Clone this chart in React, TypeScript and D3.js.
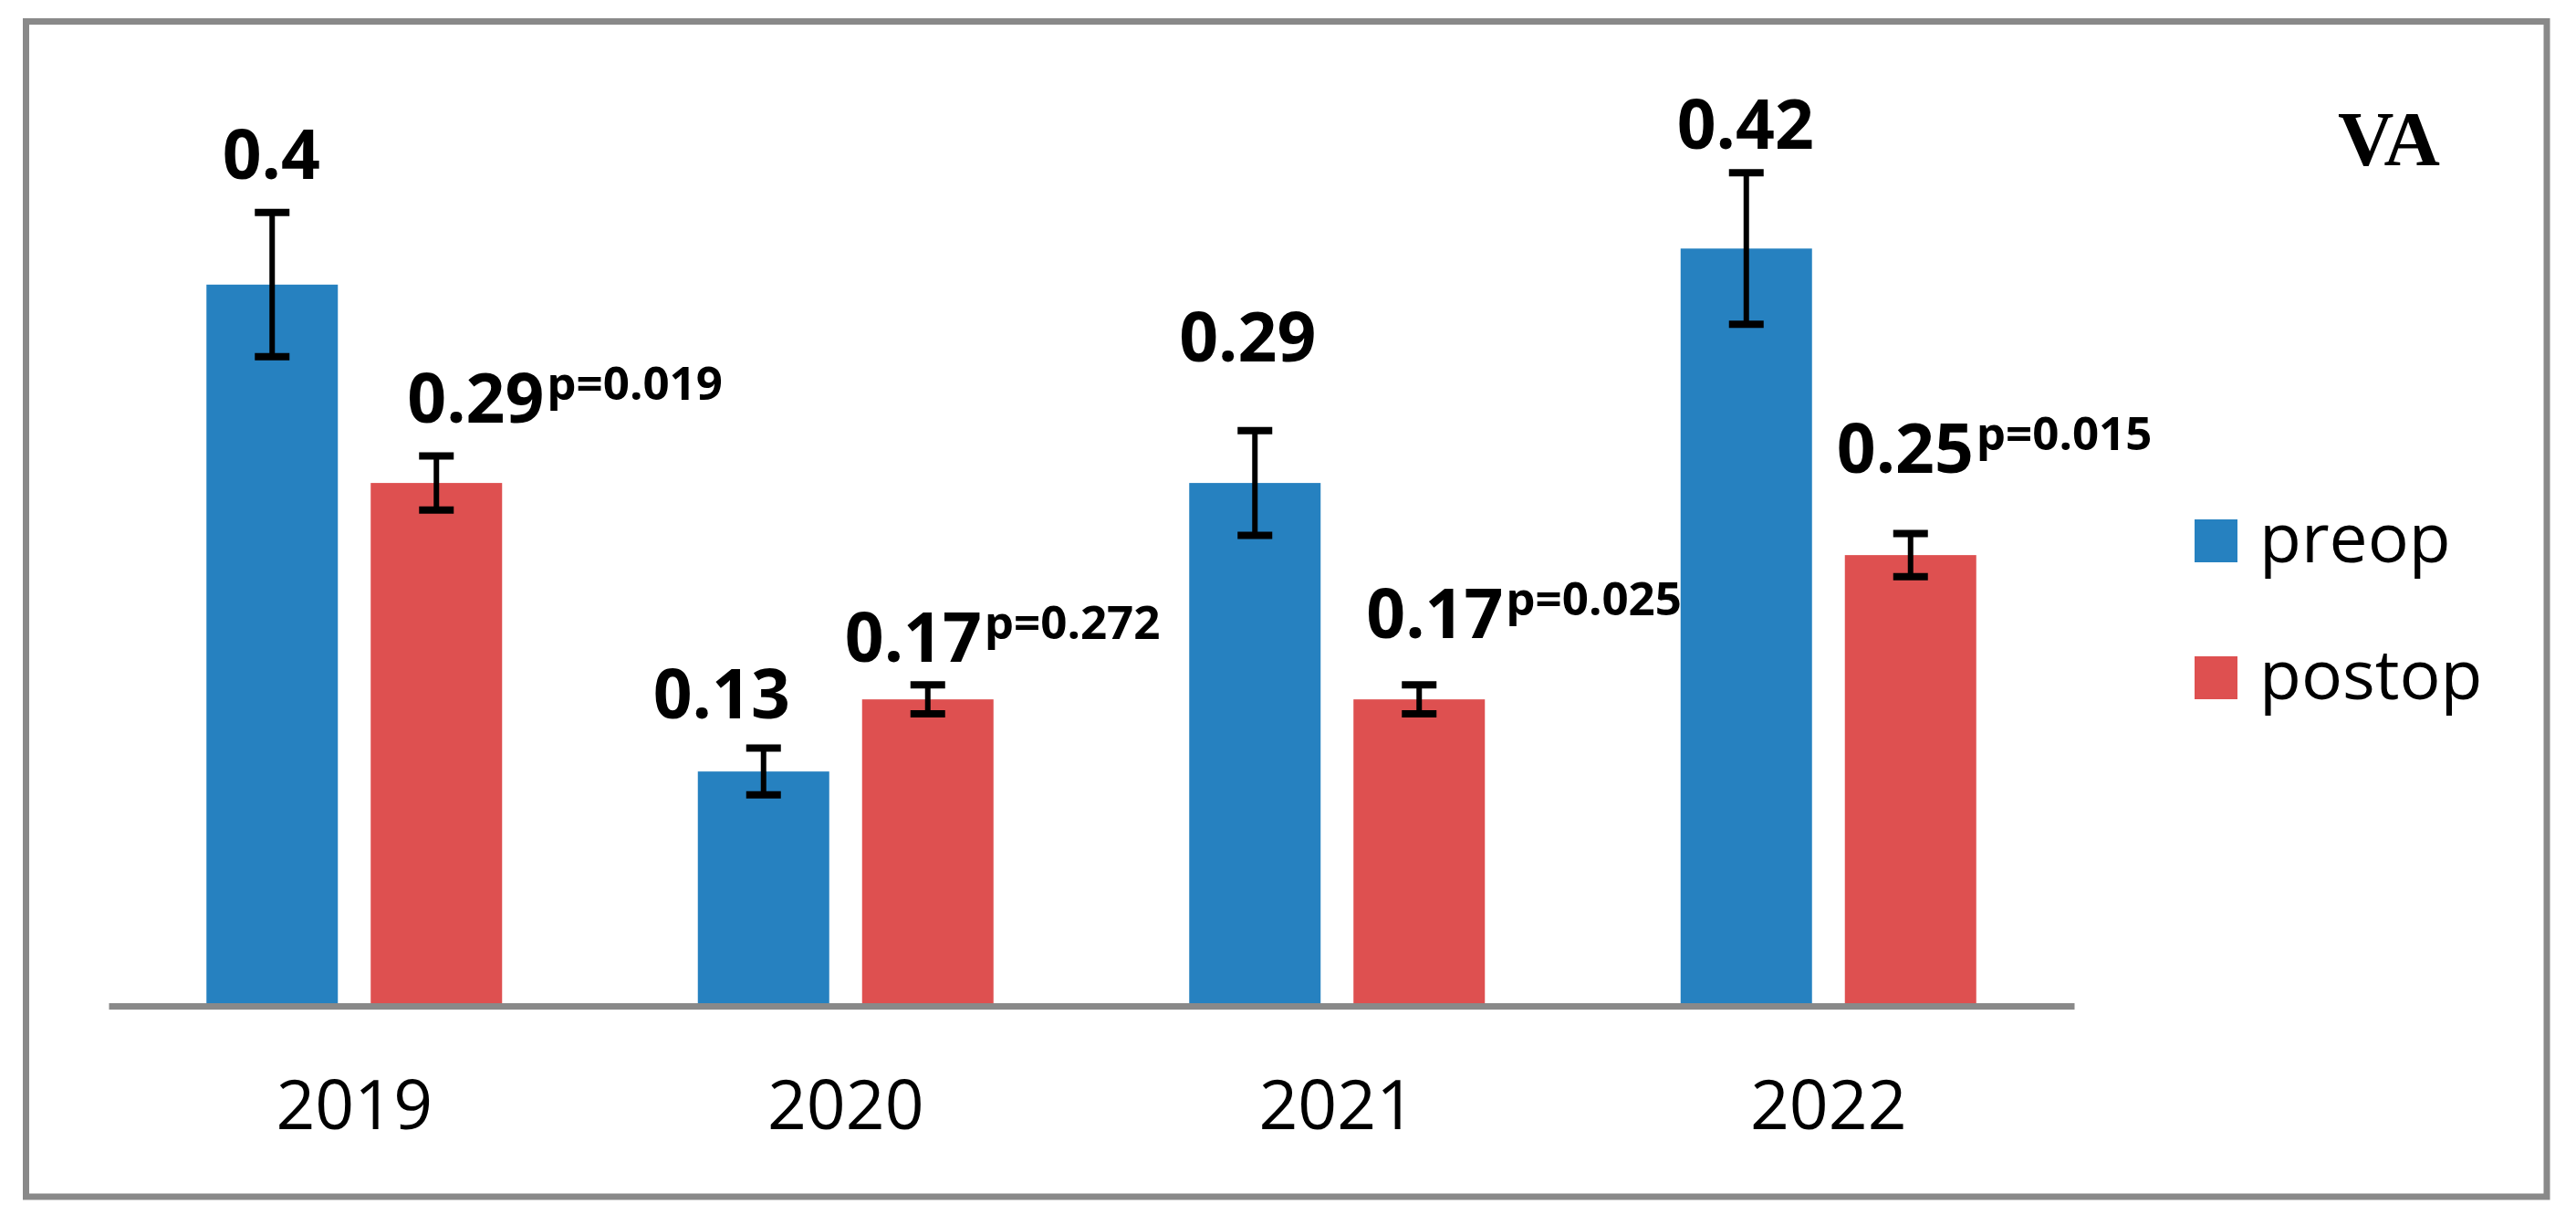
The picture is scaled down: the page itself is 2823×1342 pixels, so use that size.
import { useEffect, useRef } from "react"
import * as d3 from "d3"

// chart values
const YEARS = ["2019", "2020", "2021", "2022"]
const SERIES = ["preop", "postop"]
const PREOP = [0.4, 0.13, 0.29, 0.42]
const PREOP_ERR = [0.04, 0.013, 0.029, 0.042]
const POSTOP = [0.29, 0.17, 0.17, 0.25]
const POSTOP_ERR = [0.015, 0.008, 0.008, 0.012]
const P_VALUES = ["0.019", "0.272", "0.025", "0.015"]
const TITLE = "VA"

// label placement (px from bar centre / bar top), hand tuned like the original
const PRE_LABEL_DX = [-1, -46, -8, -1]
const PRE_LABEL_DY = [-116, -58, -133, -109]
const POST_LABEL_DX = [-32, -91, -58, -81]
const POST_LABEL_DY = [-66, -41, -67, -90]

const W = 2823
const H = 1342
const COLORS: Record<string, string> = { preop: "#2681c0", postop: "#de5050" }
const GRAY = "#898989"
const FONT = "'Open Sans', 'Noto Sans', sans-serif"

const App = () => {
    const svgRef = useRef<SVGSVGElement>(null)

    useEffect(() => {
        document.body.style.margin = "0"
        const svg = d3.select(svgRef.current)
            .attr("width", W)
            .attr("height", H)
            .style("background", "#fff")
        svg.selectAll("*").remove()

        //scales
        const x = d3.scaleBand().domain(YEARS).range([119, 2273])
        const xs = d3.scaleBand().domain(SERIES).range([-162, 162]).paddingInner(0.2)
        const y = d3.scaleLinear().domain([0, 0.5]).range([1102, 114.25])

        //outer frame
        svg.append("rect")
            .attr("x", 28.5).attr("y", 23.5)
            .attr("width", 2762.5).attr("height", 1287.5)
            .attr("fill", "none")
            .attr("stroke", GRAY)
            .attr("stroke-width", 7)

        const rows = YEARS.map((year, i) => ({
            year,
            bars: [
                { key: "preop", v: PREOP[i], e: PREOP_ERR[i], dx: PRE_LABEL_DX[i], dy: PRE_LABEL_DY[i], p: null as string | null },
                { key: "postop", v: POSTOP[i], e: POSTOP_ERR[i], dx: POST_LABEL_DX[i], dy: POST_LABEL_DY[i], p: P_VALUES[i] },
            ],
        }))

        const groups = svg.append("g").selectAll("g")
            .data(rows)
            .join("g")
            .attr("transform", d => `translate(${(x(d.year) ?? 0) + x.bandwidth() / 2},0)`)

        groups.selectAll("rect")
            .data(d => d.bars)
            .join("rect")
            .attr("x", d => xs(d.key) ?? 0)
            .attr("width", xs.bandwidth())
            .attr("y", d => y(d.v))
            .attr("height", d => y(0) - y(d.v))
            .attr("fill", d => COLORS[d.key])

        //error bars
        const err = groups.selectAll("g.err")
            .data(d => d.bars)
            .join("g")
            .attr("class", "err")
            .attr("transform", d => `translate(${(xs(d.key) ?? 0) + xs.bandwidth() / 2},0)`)
            .attr("stroke", "#000")
        err.append("line")
            .attr("y1", d => y(d.v + d.e)).attr("y2", d => y(d.v - d.e))
            .attr("stroke-width", 6)
        err.append("line")
            .attr("x1", -19).attr("x2", 19)
            .attr("y1", d => y(d.v + d.e)).attr("y2", d => y(d.v + d.e))
            .attr("stroke-width", 8)
        err.append("line")
            .attr("x1", -19).attr("x2", 19)
            .attr("y1", d => y(d.v - d.e)).attr("y2", d => y(d.v - d.e))
            .attr("stroke-width", 8)

        //value labels
        const labels = groups.selectAll("text.val")
            .data(d => d.bars)
            .join("text")
            .attr("class", "val")
            .attr("x", d => (xs(d.key) ?? 0) + xs.bandwidth() / 2 + d.dx)
            .attr("y", d => y(d.v) + d.dy)
            .attr("text-anchor", d => (d.p ? "start" : "middle"))
            .attr("font-family", FONT)
            .attr("font-weight", "bold")
            .attr("font-size", 75)
            .attr("fill", "#000")
        labels.append("tspan").text(d => `${d.v}`)
        labels.filter(d => !!d.p)
            .append("tspan")
            .attr("dy", -25)
            .attr("dx", 3)
            .attr("font-size", 51)
            .text(d => `p=${d.p}`)

        //baseline axis
        const xAxis = d3.axisBottom(x).tickSize(0).tickPadding(0)
        const ax = svg.append("g")
            .attr("transform", `translate(0,${y(0)})`)
            .call(xAxis)
        ax.select(".domain").attr("stroke", GRAY).attr("stroke-width", 7)
        ax.selectAll(".tick text")
            .attr("dy", null)
            .attr("y", 135)
            .attr("font-family", FONT)
            .attr("font-size", 75)
            .attr("fill", "#000")

        //legend
        const legend = svg.append("g").selectAll("g")
            .data(SERIES)
            .join("g")
            .attr("transform", (_, i) => `translate(2405,${616 + i * 150})`)
        legend.append("rect")
            .attr("y", -47).attr("width", 47).attr("height", 47)
            .attr("fill", d => COLORS[d])
        legend.append("text")
            .attr("x", 71)
            .attr("font-family", FONT)
            .attr("font-size", 75)
            .text(d => d)

        //title
        svg.append("text")
            .attr("x", 2618).attr("y", 181)
            .attr("text-anchor", "middle")
            .attr("font-family", "'Liberation Serif', 'Times New Roman', serif")
            .attr("font-weight", "bold")
            .attr("font-size", 85)
            .text(TITLE)
    }, [])

    return <svg ref={svgRef}></svg>
}

export default App
